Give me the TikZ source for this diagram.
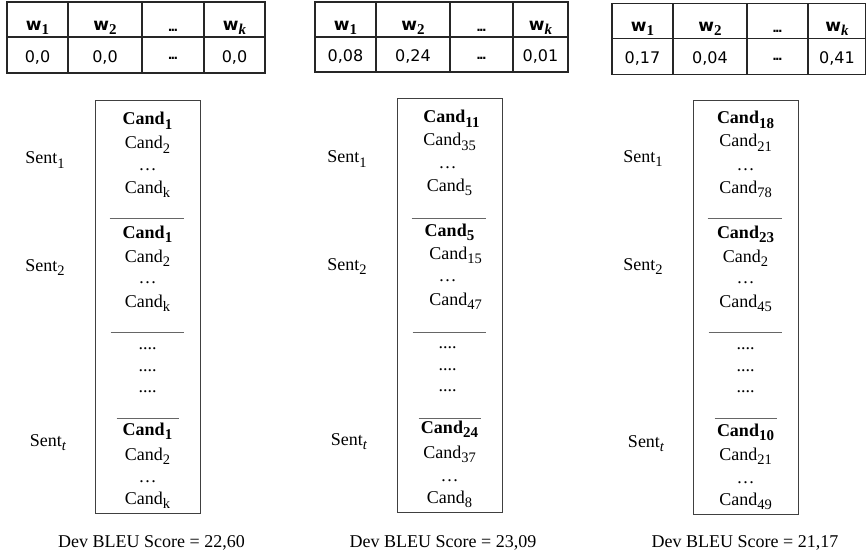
\documentclass[tikz,border=0pt]{standalone}
\usepackage{fontspec}
\setmainfont{Liberation Serif}
\newfontfamily\tabfont{DejaVu Sans}
\newfontfamily\tabsub{Liberation Serif}

% candidate / sentence labels with lowered subscripts
\newcommand\cnd[1]{Cand\raisebox{-4.5pt}{\fontsize{14.5}{14.5}\selectfont #1}}
\newcommand\bcnd[1]{{\bfseries Cand\raisebox{-4.5pt}{\fontsize{15}{15}\selectfont #1}}}
\newcommand\snt[1]{Sent\raisebox{-4.5pt}{\fontsize{14.5}{14.5}\selectfont #1}}
\newcommand\wsub[1]{{\bfseries w\raisebox{-3.5pt}{\tabsub\fontsize{15}{15}\selectfont #1}}}
% tight bold dots for the table cells
\newcommand\celldots{.\kern-1.6pt.\kern-1.6pt.}

\tikzset{
  cand/.style={anchor=base, inner sep=0pt, font=\fontsize{18}{21}\selectfont},
  hcell/.style={anchor=base, inner sep=0pt, font=\tabfont\fontsize{17}{20}\selectfont},
  vcell/.style={anchor=base, inner sep=0pt, font=\tabfont\fontsize{16}{19}\selectfont},
  dcell/.style={anchor=base, inner sep=0pt, font=\tabfont\bfseries\fontsize{12}{14}\selectfont},
  frame/.style={draw=black!75, line width=1pt, inner sep=0pt},
  sepline/.style={draw=black!60, line width=0.9pt},
  grid/.style={draw=black!85, line width=1.1pt}
}

\begin{document}
\begin{tikzpicture}[x=1pt, y=-1pt]
\useasboundingbox (0,0) rectangle (866,556);

% ---------- weight tables ----------
\draw[grid] (7,2) rectangle (265,73);
\draw[grid] (7,37) -- (265,37);
\foreach \c in {68,142,204} \draw[grid] (\c,2) -- (\c,73);

\draw[grid] (315,2) rectangle (568,72);
\draw[grid] (315,37) -- (568,37);
\foreach \c in {376,450,513} \draw[grid] (\c,2) -- (\c,72);

\draw[grid] (612,3.5) rectangle (865.5,74.5);
\draw[grid] (612,38.5) -- (865.5,38.5);
\foreach \c in {673,747,808} \draw[grid] (\c,3.5) -- (\c,74.5);

% table headers
\node[hcell] (ah1) at (37.5,31) {\wsub{1}};
\node[hcell] (bh1) at (345.5,31) {\wsub{1}};
\node[hcell] (ch1) at (642.5,32) {\wsub{1}};
\node[hcell] (ah2) at (105,31) {\wsub{2}};
\node[hcell] (bh2) at (413,31) {\wsub{2}};
\node[hcell] (ch2) at (710,32) {\wsub{2}};
\node[hcell] (ahk) at (234.5,31) {\wsub{\itshape k}};
\node[hcell] (bhk) at (540.5,31) {\wsub{\itshape k}};
\node[hcell] (chk) at (837,32) {\wsub{\itshape k}};

\node[dcell] (ahd) at (173,31.5) {\celldots};
\node[dcell] (bhd) at (481.5,31.5) {\celldots};
\node[dcell] (chd) at (777.5,32.5) {\celldots};
\node[dcell] (avd) at (173,60) {\celldots};
\node[dcell] (bvd) at (481.5,60) {\celldots};
\node[dcell] (cvd) at (777.5,61) {\celldots};

% table values
\node[vcell] (av1) at (37.5,62.5) {0,0};
\node[vcell] (av2) at (105,62.5) {0,0};
\node[vcell] (avk) at (234.5,62.5) {0,0};
\node[vcell] (bv1) at (345.5,62) {0,08};
\node[vcell] (bv2) at (413,62) {0,24};
\node[vcell] (bvk) at (540.5,62) {0,01};
\node[vcell] (cv1) at (642.5,63.5) {0,17};
\node[vcell] (cv2) at (710,63.5) {0,04};
\node[vcell] (cvk) at (837,63.5) {0,41};

% ---------- candidate lists ----------
\node[frame, minimum width=105pt, minimum height=412pt] (box1) at (147.5,307) {};
\node[frame, minimum width=105pt, minimum height=413pt] (box2) at (449.5,305.5) {};
\node[frame, minimum width=105pt, minimum height=413pt] (box3) at (745.5,307.5) {};

% group separators
\foreach \cx in {147.5,449.5,745.5}{
  \draw[sepline] (\cx-38,218) -- (\cx+36,218);
  \draw[sepline] (\cx-37,332) -- (\cx+36,332);
  \draw[sepline] (\cx-31,418) -- (\cx+31,418);
}

\foreach \dx/\y/\t [count=\i] in {
  0/125/{\bcnd{1}}, 0/149/{\cnd{2}}, 0/170/{…}, 0/193/{\cnd{k}},
  0/238/{\bcnd{1}}, 0/262/{\cnd{2}}, 0/283/{…}, 0/307/{\cnd{k}},
  0/349/{....}, 0/371/{....}, 0/392/{....},
  0/435/{\bcnd{1}}, 0/460/{\cnd{2}}, 0/482/{…}, 0/504/{\cnd{k}}}
  \node[cand] (a\i) at (147.5+\dx,\y) {\t};

\foreach \dx/\y/\t [count=\i] in {
  2/123/{\bcnd{11}}, 0/146/{\cnd{35}}, -2/168/{…}, 0/191/{\cnd{5}},
  0/236/{\bcnd{5}}, 6/259/{\cnd{15}}, -2/281/{…}, 6/305/{\cnd{47}},
  -2/348/{....}, -2/370/{....}, -2/391/{....},
  0/433/{\bcnd{24}}, 0/458/{\cnd{37}}, 0/481/{…}, 0/503/{\cnd{8}}}
  \node[cand] (b\i) at (449.5+\dx,\y) {\t};

\foreach \dx/\y/\t [count=\i] in {
  0/124/{\bcnd{18}}, 0/147/{\cnd{21}}, 0/170/{…}, 0/193/{\cnd{78}},
  0/238/{\bcnd{23}}, 0/262/{\cnd{2}}, 0/283/{…}, 0/307/{\cnd{45}},
  0/349/{....}, 0/371/{....}, 0/392/{....},
  0/436/{\bcnd{10}}, 0/460/{\cnd{21}}, 0/483/{…}, 0/505/{\cnd{49}}}
  \node[cand] (c\i) at (745.5+\dx,\y) {\t};

% sentence labels
\node[cand] (as1) at (45,164) {\snt{1}};
\node[cand] (as2) at (45,271) {\snt{2}};
\node[cand] (ast) at (48,446) {\snt{\itshape t}};
\node[cand] (bs1) at (347,163) {\snt{1}};
\node[cand] (bs2) at (347,270) {\snt{2}};
\node[cand] (bst) at (349,445) {\snt{\itshape t}};
\node[cand] (cs1) at (643,162) {\snt{1}};
\node[cand] (cs2) at (643,270) {\snt{2}};
\node[cand] (cst) at (646,447) {\snt{\itshape t}};

% scores
\node[cand] (ascore) at (151.5,547) {Dev BLEU Score = 22,60};
\node[cand] (bscore) at (443,547) {Dev BLEU Score = 23,09};
\node[cand] (cscore) at (745,547) {Dev BLEU Score = 21,17};
\end{tikzpicture}
\end{document}
